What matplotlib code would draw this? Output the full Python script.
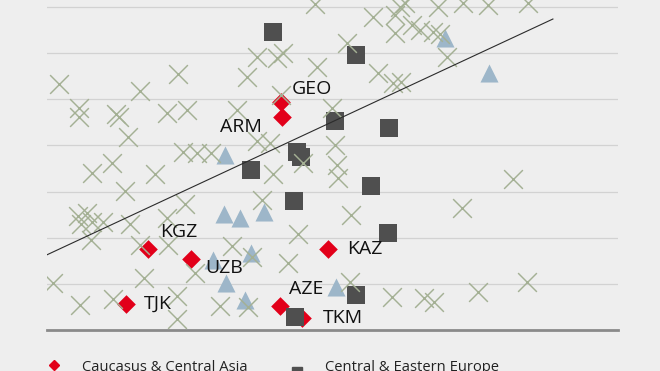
import matplotlib
matplotlib.use("Agg")
import matplotlib.pyplot as plt
from matplotlib.lines import Line2D

plt.rcParams["font.family"] = ["Open Sans", "DejaVu Sans"]

# Caucasus & Central Asia (labelled)
cca_names = ["GEO", "ARM", "KGZ", "UZB", "TJK", "KAZ", "AZE", "TKM"]
cca_x = [4.10, 4.12, 1.77, 2.52, 1.38, 4.92, 4.08, 4.47]
cca_y = [4.94, 4.62, 1.76, 1.54, 0.56, 1.76, 0.52, 0.26]

# Central & Eastern Europe
cee_x = [3.96, 5.41, 5.04, 5.99, 4.38, 4.45, 3.57, 5.67, 4.33, 5.97, 5.41, 4.34]
cee_y = [6.46, 5.96, 4.53, 4.38, 3.86, 3.75, 3.47, 3.12, 2.80, 2.10, 0.76, 0.28]

# third group (triangles)
tri_x = [6.97, 7.74, 3.12, 3.10, 3.38, 3.80, 2.91, 3.57, 3.13, 3.47, 5.06]
tri_y = [6.33, 5.57, 3.79, 2.51, 2.43, 2.56, 1.52, 1.67, 1.02, 0.65, 0.93]

# other countries (crosses)
oth_x = [4.69, 5.71, 6.09, 6.18, 6.27, 6.85, 7.29, 7.72, 8.42, 6.09,
         6.39, 6.53, 6.76, 6.88, 5.25, 4.13, 3.68, 4.03, 3.50, 4.73,
         7.01, 5.80, 6.06, 6.20, 0.21, 2.29, 1.63, 4.10, 0.56, 0.56,
         1.21, 1.26, 2.10, 2.45, 3.33, 4.99, 1.42, 1.14, 0.79, 1.89,
         2.38, 2.63, 2.87, 3.68, 3.91, 5.04, 4.48, 5.08, 5.10, 3.96,
         1.37, 8.16, 2.42, 3.77, 0.54, 0.70, 0.60, 0.79, 0.98, 1.45,
         2.10, 0.77, 1.63, 2.12, 3.24, 3.59, 4.40, 4.22, 5.32, 7.27,
         2.59, 1.70, 0.11, 0.58, 1.16, 2.28, 2.28, 3.03, 3.52, 5.31,
         6.04, 6.60, 6.78, 7.55, 8.41]
oth_y = [7.07, 6.78, 6.83, 7.00, 7.09, 7.00, 7.09, 7.04, 7.09, 6.44,
         6.61, 6.50, 6.46, 6.42, 6.22, 6.00, 5.92, 5.90, 5.48, 5.70,
         5.92, 5.57, 5.35, 5.37, 5.33, 5.55, 5.18, 5.09, 4.81, 4.62,
         4.68, 4.62, 4.70, 4.77, 4.77, 4.81, 4.18, 3.62, 3.40, 3.38,
         3.86, 3.84, 3.84, 4.10, 4.05, 4.01, 3.62, 3.58, 3.29, 3.38,
         3.01, 3.27, 2.73, 2.82, 2.47, 2.54, 2.30, 2.34, 2.34, 2.30,
         2.43, 1.95, 1.84, 1.84, 1.82, 1.58, 2.08, 1.45, 2.49, 2.64,
         1.24, 1.13, 1.02, 0.54, 0.67, 0.74, 0.24, 0.52, 0.50, 1.04,
         0.72, 0.69, 0.61, 0.82, 1.04]

# trend line end points
trend_x = [0.0, 8.86]
trend_y = [1.63, 6.74]

# label offsets in pixels (dx, dy), ha
label_off = {
    "GEO": (11, 13, "left"), "ARM": (-20, -10, "right"),
    "KGZ": (12, 17, "left"), "UZB": (14, -9, "left"),
    "TJK": (18, 0, "left"), "KAZ": (19, 0, "left"),
    "AZE": (9, 17, "left"), "TKM": (21, 0, "left"),
}

BG = "#eeeeee"
RED = "#e2001a"
GREY = "#4f4f4f"
BLUE = "#9db6c9"
SAGE = "#a4b094"

fig = plt.figure(figsize=(6.6, 3.71), dpi=100, facecolor=BG)
ax = fig.add_axes([47 / 660, 41 / 371, 571 / 660, 330 / 371])
ax.set_facecolor(BG)
ax.set_xlim(0, 10)
ax.set_ylim(0, 330 / 46.14)

for gy in range(1, 8):
    ax.axhline(gy, color="#d2d2d2", lw=0.9, zorder=1)

for s in ["top", "right", "left"]:
    ax.spines[s].set_visible(False)
ax.spines["bottom"].set_color("#8a8a8a")
ax.spines["bottom"].set_linewidth(2.0)
ax.set_xticks([])
ax.set_yticks([])

ax.scatter(cca_x, cca_y, marker="D", s=9.5 ** 2, color=RED, lw=0, zorder=2)
ax.scatter(tri_x, tri_y, marker="^", s=13 ** 2, color=BLUE, lw=0, zorder=3)
ax.scatter(cee_x, cee_y, marker="s", s=13 ** 2, color=GREY, lw=0, zorder=4)
ax.scatter(oth_x, oth_y, marker="x", s=13.5 ** 2, color=SAGE, lw=1.05, zorder=5)
ax.plot(trend_x, trend_y, color="#2b2b2b", lw=0.8, zorder=6)

for name, x, y in zip(cca_names, cca_x, cca_y):
    dx, dy, ha = label_off[name]
    ax.annotate(name, (x, y), xytext=(dx * 0.72, dy * 0.72), textcoords="offset points",
                ha=ha, va="center", fontsize=14, color="#111111", zorder=7)

# legend row (bottom, partly cut as in the source)
fig.add_artist(Line2D([54 / 660], [(371 - 365) / 371], marker="D", ms=5.6, color=RED, lw=0))
fig.text(82 / 660, (371 - 371) / 371, "Caucasus & Central Asia", fontsize=10.6,
         color="#222222", va="baseline")
fig.add_artist(Line2D([297 / 660], [(371 - 372) / 371], marker="s", ms=7.5, color=GREY, lw=0))
fig.text(325 / 660, (371 - 371) / 371, "Central & Eastern Europe", fontsize=10.6,
         color="#222222", va="baseline")

fig.savefig("out.png", dpi=100, facecolor=BG)
